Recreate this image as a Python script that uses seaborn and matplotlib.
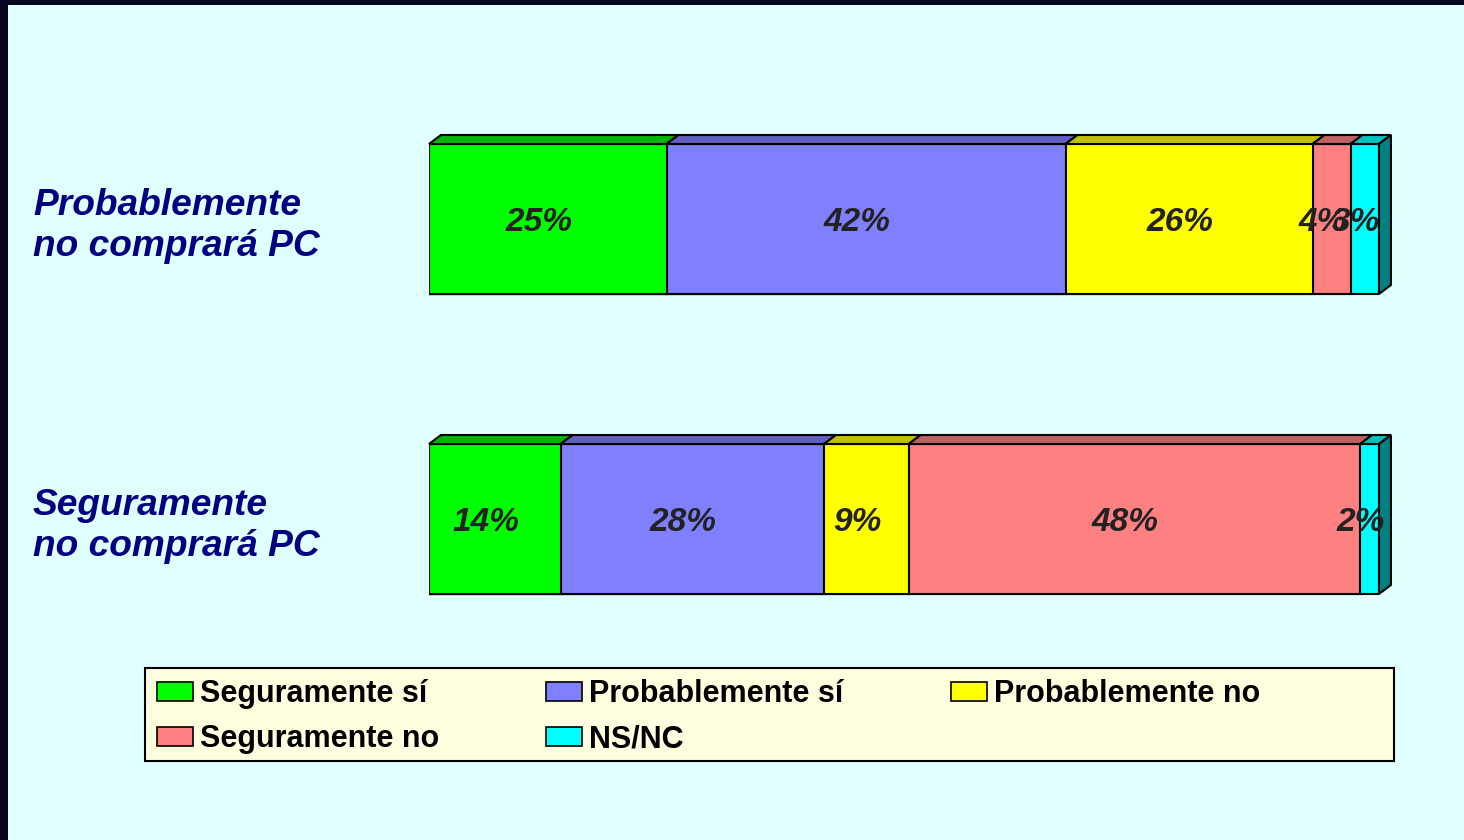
import pandas as pd
import matplotlib.pyplot as plt
import matplotlib.patches as mpatches
import seaborn as sns

# datos
categories = ["Probablemente\nno comprará PC", "Seguramente\nno comprará PC"]
series = ["Seguramente sí", "Probablemente sí", "Probablemente no", "Seguramente no", "NS/NC"]
seg_si = [25, 14]
prob_si = [42, 28]
prob_no = [26, 9]
seg_no = [4, 48]
ns_nc = [3, 2]

front_colors = ["#00FF00", "#8080FF", "#FFFF00", "#FF8080", "#00FFFF"]
top_colors = ["#00B400", "#6060C0", "#C0C000", "#C06060", "#00C0C0"]
side_color = "#008080"

sns.set_style("white")
plt.rcParams['font.family'] = ['Liberation Sans', 'DejaVu Sans']

vals = pd.DataFrame([seg_si, prob_si, prob_no, seg_no, ns_nc], index=series, columns=categories).T
pct = vals.div(vals.sum(axis=1), axis=0) * 100
ends = pct.cumsum(axis=1)
starts = ends - pct

fig = plt.figure(figsize=(14.64, 8.4), dpi=100, facecolor="#E0FFFF")
ax = fig.add_axes([429/1464, 171/840, 950/1464, 600/840])
ax.set_facecolor("none")

# barras apiladas: de la suma total a la primera serie
for s, c in reversed(list(zip(series, front_colors))):
    sns.barplot(x=ends[s].values, y=categories, orient="h", color=c, saturation=1,
                width=0.5, edgecolor="black", linewidth=1.5, errorbar=None, ax=ax)

# efecto 3D
dx, dy = 1.26, 0.03
for j, cat in enumerate(categories):
    top = j - 0.25
    for s, tc in zip(series, top_colors):
        l, r = starts.loc[cat, s], ends.loc[cat, s]
        ax.add_patch(mpatches.Polygon([(l, top), (r, top), (r + dx, top - dy), (l + dx, top - dy)],
                                      closed=True, fc=tc, ec="black", lw=1.5, clip_on=False))
    r = ends.loc[cat].iloc[-1]
    ax.add_patch(mpatches.Polygon([(r, top), (r + dx, top - dy), (r + dx, j + 0.25 - dy), (r, j + 0.25)],
                                  closed=True, fc=side_color, ec="black", lw=1.5, clip_on=False))
    for s in series:
        l, r = starts.loc[cat, s], ends.loc[cat, s]
        ax.text((l + r) / 2 - 0.95, j + 0.013, f"{vals.loc[cat, s]}%", ha="center", va="center",
                fontsize=24, fontweight="bold", fontstyle="italic", color="#222222")

ax.set_xlim(0, 100)
ax.set_ylim(1.5, -0.5)
ax.xaxis.set_visible(False)
for sp in ax.spines.values():
    sp.set_visible(False)
ax.set_xlabel("")
ax.set_ylabel("")
ax.set_yticks([0, 1])
ax.set_yticklabels(categories, fontsize=26.7, fontweight="bold", fontstyle="italic",
                   color="#000080", ha="left", linespacing=1.22)
ax.tick_params(axis="y", length=0, pad=(429 - 33) * 72 / 100)

# leyenda
handles = [mpatches.Patch(fc=c, ec="black", lw=1.2, label=s) for s, c in zip(series, front_colors)]
order = [0, 3, 1, 4, 2]
fig.add_artist(mpatches.Rectangle((145/1464, 79/840), 1249/1464, 93/840, transform=fig.transFigure,
                                  fc="#FFFFE0", ec="black", lw=1.5, zorder=1))
leg = fig.legend(handles=[handles[i] for i in order], ncol=3, loc="upper left",
                 bbox_to_anchor=(157/1464, 1 - 679/840), frameon=False,
                 prop={"size": 22, "weight": "bold"}, handlelength=1.18, handleheight=0.6,
                 handletextpad=0.23, columnspacing=3.5, labelspacing=0.5,
                 borderpad=0, borderaxespad=0)
for t in leg.get_texts():
    t.set_color("black")

# borde oscuro
fig.add_artist(mpatches.Rectangle((0, 0), 8/1464, 1, transform=fig.transFigure, fc="#05051E", ec="none"))
fig.add_artist(mpatches.Rectangle((0, 1 - 5/840), 1, 5/840, transform=fig.transFigure, fc="#05051E", ec="none"))

fig.savefig("out.png", dpi=100, facecolor=fig.get_facecolor())
